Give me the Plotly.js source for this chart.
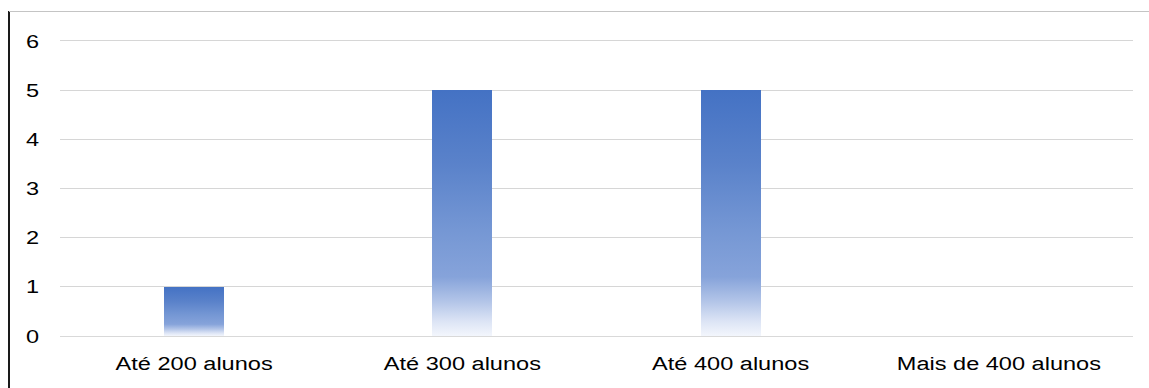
<!DOCTYPE html>
<html>
<head>
<meta charset="utf-8">
<script src="https://cdn.plot.ly/plotly-3.0.1.min.js"></script>
<style>
  html, body { margin: 0; padding: 0; background: #ffffff; }
  #wrap { position: relative; width: 1149px; height: 388px; overflow: hidden; }
  #chart { position: absolute; left: 0; top: 0; width: 1149px; height: 388px; }
  .frame-left { position: absolute; left: 8px; top: 11px; width: 2px; height: 377px; background: #1a1a1a; pointer-events: none; }
  .frame-top { position: absolute; left: 9px; top: 11px; width: 1140px; height: 1px; background: #c4c4c4; pointer-events: none; }
</style>
</head>
<body>
<div id="wrap">
  <div id="chart"></div>
  <div class="frame-left"></div>
  <div class="frame-top"></div>
</div>
<script>
// School size brackets and number of schools in each
const categories = ["Até 200 alunos", "Até 300 alunos", "Até 400 alunos", "Mais de 400 alunos"];
const schoolCounts = [1, 5, 5, 0];
const yTickValues = [0, 1, 2, 3, 4, 5, 6];

const FONT = "'Liberation Sans', Arial, sans-serif";
const LABEL_STRETCH = 1.24;

const trace = {
  type: "bar",
  x: categories,
  y: schoolCounts,
  width: 0.224,
  marker: { color: "#4472C4", line: { width: 0 } },
  hoverinfo: "x+y"
};

const layout = {
  width: 1149,
  height: 388,
  margin: { l: 60, r: 16, t: 36, b: 52 },
  paper_bgcolor: "rgba(0,0,0,0)",
  plot_bgcolor: "rgba(0,0,0,0)",
  showlegend: false,
  font: { family: FONT, size: 19, color: "#000000" },
  xaxis: {
    type: "category",
    showgrid: false,
    showline: false,
    zeroline: false,
    ticks: "",
    ticklabelstandoff: 14,
    tickfont: { family: FONT, size: 19, color: "#000000" }
  },
  yaxis: {
    range: [0, 6.1],
    tickvals: yTickValues,
    ticktext: yTickValues.map(String),
    showgrid: true,
    gridcolor: "#d6d6d6",
    gridwidth: 1,
    zeroline: true,
    zerolinecolor: "#d9d9d9",
    zerolinewidth: 1,
    showline: false,
    ticks: "",
    ticklabelstandoff: 20,
    tickfont: { family: FONT, size: 19, color: "#000000" }
  },
  bargap: 0
};

// Vertical gradient used for the bar fill: solid blue at the top fading to near-white at the base
function addBarGradient(gd) {
  const svg = gd.querySelector("svg.main-svg");
  const ns = "http://www.w3.org/2000/svg";
  let defs = svg.querySelector("defs");
  if (!defs) { defs = document.createElementNS(ns, "defs"); svg.insertBefore(defs, svg.firstChild); }
  const grad = document.createElementNS(ns, "linearGradient");
  grad.setAttribute("id", "barFade");
  grad.setAttribute("x1", "0"); grad.setAttribute("y1", "0");
  grad.setAttribute("x2", "0"); grad.setAttribute("y2", "1");
  const stops = [
    [0.00, "#4472C4"],
    [0.30, "#5A82CA"],
    [0.57, "#7597D4"],
    [0.76, "#86A3DA"],
    [0.86, "#B3C5E8"],
    [0.94, "#DCE4F5"],
    [1.00, "#F3F6FC"]
  ];
  stops.forEach(([off, col]) => {
    const s = document.createElementNS(ns, "stop");
    s.setAttribute("offset", off);
    s.setAttribute("stop-color", col);
    grad.appendChild(s);
  });
  defs.appendChild(grad);
  gd.querySelectorAll(".barlayer .point path").forEach(p => {
    p.style.fill = "url(#barFade)";
  });
}

// Slightly widen the tick label glyphs, keeping each label anchored in place
function widenLabels(gd) {
  gd.querySelectorAll(".xtick text, .ytick text").forEach(t => {
    const tr = t.getAttribute("transform") || "";
    if (/scale/.test(tr)) return;
    const ax = parseFloat(t.getAttribute("x")) || 0;
    t.setAttribute("transform",
      tr + ` translate(${ax},0) scale(${LABEL_STRETCH},1) translate(${-ax},0)`);
  });
}

Plotly.newPlot("chart", [trace], layout, { displayModeBar: false, staticPlot: true }).then(gd => {
  addBarGradient(gd);
  widenLabels(gd);
});
</script>
</body>
</html>
